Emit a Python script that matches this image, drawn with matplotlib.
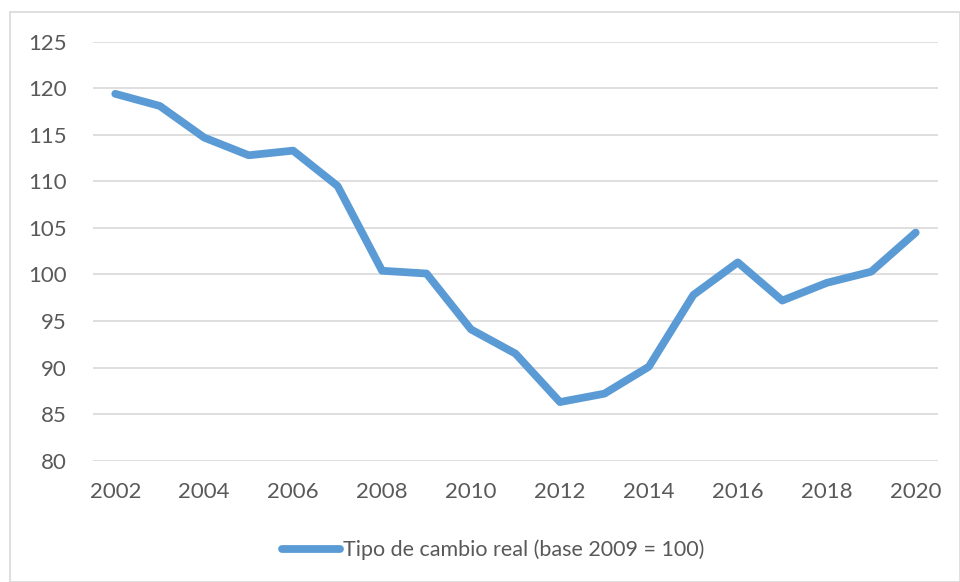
import matplotlib.pyplot as plt
from matplotlib.patches import Rectangle

years = list(range(2002, 2021))
tcr = [119.4, 118.1, 114.7, 112.8, 113.3, 109.5, 100.4, 100.1, 94.1, 91.5,
       86.3, 87.2, 90.1, 97.8, 101.3, 97.2, 99.1, 100.3, 104.5]
yticks = [80, 85, 90, 95, 100, 105, 110, 115, 120, 125]
xticks = list(range(2002, 2021, 2))
label = 'Tipo de cambio real (base 2009 = 100)'

blue = '#5B9BD5'
grey_txt = '#595959'
grid_col = '#D9D9D9'

plt.rcParams['font.family'] = ['Lato', 'DejaVu Sans']

fig = plt.figure(figsize=(9.6, 5.82), dpi=100)
ax = fig.add_axes([0.0969, 0.2084, 0.977 - 0.0969, 0.9284 - 0.2084])

ax.plot(years, tcr, color=blue, lw=5.6, solid_capstyle='round',
        solid_joinstyle='round', label=label)

ax.set_xlim(2001.5, 2020.5)
ax.set_ylim(80, 125)
ax.set_yticks(yticks)
ax.set_xticks(xticks)
ax.grid(axis='y', color=grid_col, lw=1.2)
ax.set_axisbelow(True)
for s in ax.spines.values():
    s.set_visible(False)
ax.tick_params(axis='both', length=0, labelsize=16, colors=grey_txt)
ax.tick_params(axis='y', pad=19)
ax.tick_params(axis='x', pad=15)

leg = fig.legend(loc='center', bbox_to_anchor=(0.5135, 0.055), frameon=False,
                 fontsize=15.5, handlelength=2.7, handletextpad=0.15)
for t in leg.get_texts():
    t.set_color(grey_txt)

# chart area border
fig.patches.append(Rectangle((10 / 960, 0), 1 - 10 / 960, 1 - 12 / 582,
                             transform=fig.transFigure, fill=False,
                             edgecolor=grid_col, lw=1.2))

fig.savefig('out.png', dpi=100)
